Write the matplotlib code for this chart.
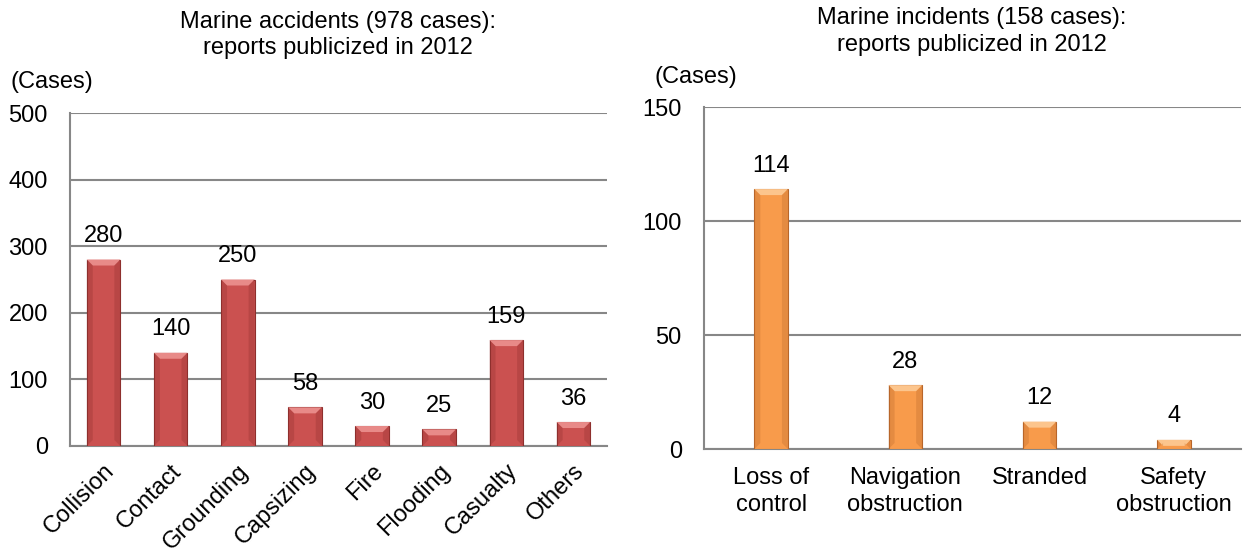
import matplotlib.pyplot as plt
from matplotlib.patches import Polygon

plt.rcParams['font.family'] = ['Liberation Sans', 'DejaVu Sans']

# left chart: marine accidents
acc_labels = ['Collision', 'Contact', 'Grounding', 'Capsizing', 'Fire',
              'Flooding', 'Casualty', 'Others']
acc_values = [280, 140, 250, 58, 30, 25, 159, 36]
acc_ticks = [0, 100, 200, 300, 400, 500]

# right chart: marine incidents
inc_labels = ['Loss of\ncontrol', 'Navigation\nobstruction', 'Stranded',
              'Safety\nobstruction']
inc_values = [114, 28, 12, 4]
inc_ticks = [0, 50, 100, 150]

W, H = 1253, 552
fig = plt.figure(figsize=(W / 100, H / 100), dpi=100)
FS = 17
GRID = '#878787'


def bevel_bars(ax, values, width, face, light, dark):
    xs = range(len(values))
    bars = ax.bar(xs, values, width=width, color=face, edgecolor=dark,
                  linewidth=0.8, zorder=3)
    # small lighter bevel on top of every bar, sized in display units
    y_per_px = (ax.get_ylim()[1] - ax.get_ylim()[0]) / ax.bbox.height
    x_per_px = (ax.get_xlim()[1] - ax.get_xlim()[0]) / ax.bbox.width
    d = 6
    for b in bars:
        x0, x1 = b.get_x(), b.get_x() + b.get_width()
        top = b.get_height()
        bev = Polygon([(x0, top), (x1, top),
                       (x1 - d * x_per_px, top - d * y_per_px),
                       (x0 + d * x_per_px, top - d * y_per_px)],
                      closed=True, facecolor=light, edgecolor='none', zorder=4)
        ax.add_patch(bev)
        for side, sx in ((x0, d), (x1, -d)):
            edge = Polygon([(side, top), (side + sx * x_per_px, top - d * y_per_px),
                            (side + sx * x_per_px, d * y_per_px), (side, 0)],
                           closed=True, facecolor=dark, alpha=0.3,
                           edgecolor='none', zorder=4)
            ax.add_patch(edge)
    return bars


def style(ax, ticks):
    ax.set_yticks(ticks)
    ax.set_ylim(ticks[0], ticks[-1])
    ax.yaxis.grid(True, color=GRID, linewidth=1.5, zorder=0)
    ax.set_axisbelow(True)
    for s in ('top', 'right'):
        ax.spines[s].set_visible(False)
    for s in ('left', 'bottom'):
        ax.spines[s].set_color(GRID)
        ax.spines[s].set_linewidth(1.5)
    ax.tick_params(length=0, labelsize=FS)
    ax.tick_params(axis='y', pad=16)


# left axes
ax1 = fig.add_axes([70 / W, (H - 446) / H, 537 / W, 333 / H])
ax1.set_xlim(-0.5, len(acc_values) - 0.5)
style(ax1, acc_ticks)
bevel_bars(ax1, acc_values, 0.5, '#CB5150', '#E88A88', '#8E2F2D')
for i, v in enumerate(acc_values):
    ax1.annotate(str(v), (i, v), xytext=(0, 9), textcoords='offset points',
                 ha='center', va='bottom', fontsize=FS)
ax1.set_xticks(range(len(acc_labels)))
ax1.set_xticklabels(acc_labels, rotation=45, ha='right',
                    rotation_mode='anchor', fontsize=FS)
ax1.tick_params(axis='x', pad=10)
fig.text(338 / W, 1 - 22 / H, 'Marine accidents (978 cases):', ha='center',
         va='center', fontsize=FS)
fig.text(338 / W, 1 - 48 / H, 'reports publicized in 2012', ha='center',
         va='center', fontsize=FS)
fig.text(10 / W, 1 - 82 / H, '(Cases)', ha='left', va='center', fontsize=FS)

# right axes
ax2 = fig.add_axes([704 / W, (H - 449) / H, 537 / W, 342 / H])
ax2.set_xlim(-0.5, len(inc_values) - 0.5)
style(ax2, inc_ticks)
bevel_bars(ax2, inc_values, 0.25, '#F89B4B', '#FCC58D', '#B8662A')
for i, v in enumerate(inc_values):
    ax2.annotate(str(v), (i, v), xytext=(0, 9), textcoords='offset points',
                 ha='center', va='bottom', fontsize=FS)
ax2.set_xticks(range(len(inc_labels)))
ax2.set_xticklabels(inc_labels, fontsize=FS, linespacing=1.3)
ax2.tick_params(axis='x', pad=13)
fig.text(972 / W, 1 - 18 / H, 'Marine incidents (158 cases):', ha='center',
         va='center', fontsize=FS)
fig.text(972 / W, 1 - 45 / H, 'reports publicized in 2012', ha='center',
         va='center', fontsize=FS)
fig.text(654 / W, 1 - 77 / H, '(Cases)', ha='left', va='center', fontsize=FS)

fig.savefig('out.png', dpi=100)
